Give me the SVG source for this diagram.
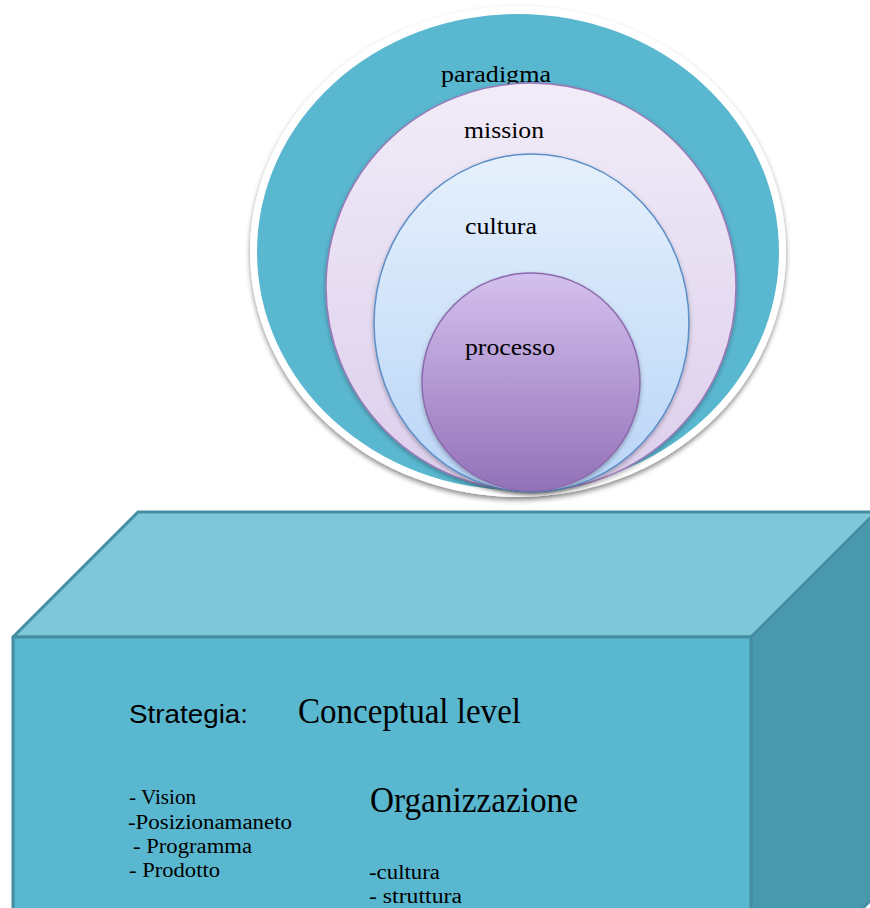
<svg xmlns="http://www.w3.org/2000/svg" width="870" height="908" viewBox="0 0 870 908">
  <defs>
    <linearGradient id="gMission" x1="0" y1="0" x2="0" y2="1">
      <stop offset="0" stop-color="#F1ECF8"/>
      <stop offset="1" stop-color="#DCCEEC"/>
    </linearGradient>
    <linearGradient id="gCultura" x1="0" y1="0" x2="0" y2="1">
      <stop offset="0" stop-color="#E6F0FC"/>
      <stop offset="1" stop-color="#B9D5F7"/>
    </linearGradient>
    <linearGradient id="gProcesso" x1="0" y1="0" x2="0" y2="1">
      <stop offset="0" stop-color="#D4C0EE"/>
      <stop offset="1" stop-color="#9371B8"/>
    </linearGradient>
    <filter id="shadowOuter" x="-10%" y="-10%" width="120%" height="125%">
      <feDropShadow dx="0" dy="3" stdDeviation="2.5" flood-color="#000" flood-opacity="0.45"/>
    </filter>
    <filter id="shadowInner" x="-10%" y="-10%" width="120%" height="125%">
      <feDropShadow dx="0" dy="2" stdDeviation="2" flood-color="#000" flood-opacity="0.3"/>
    </filter>
  </defs>
  <style>
    .lbl { font-family: "Liberation Serif", "DejaVu Serif", serif; font-size: 24px; fill: #000; }
    .big { font-family: "Liberation Serif", "DejaVu Serif", serif; font-size: 35px; fill: #000; }
    .item { font-family: "Liberation Serif", "DejaVu Serif", serif; font-size: 20px; fill: #000; }
    .head { font-family: "Liberation Sans", "DejaVu Sans", sans-serif; font-size: 26px; fill: #000; }
    .edge { stroke: #458EA1; stroke-width: 3; stroke-linejoin: round; }
  </style>

  <!-- nested rings -->
  <g id="paradigma">
    <ellipse cx="518" cy="251.5" rx="268" ry="245.5" fill="#FFFFFF" filter="url(#shadowOuter)"/>
    <ellipse cx="518" cy="252" rx="261" ry="238" fill="#59B7CF"/>
    <text class="lbl" x="441" y="82" textLength="110" lengthAdjust="spacingAndGlyphs">paradigma</text>
  </g>
  <g id="mission">
    <ellipse cx="531" cy="287" rx="205" ry="204" fill="url(#gMission)" stroke="#9A78B8" stroke-width="1.5" filter="url(#shadowInner)"/>
    <text class="lbl" x="464" y="138" textLength="80" lengthAdjust="spacingAndGlyphs">mission</text>
  </g>
  <g id="cultura">
    <ellipse cx="531.5" cy="323" rx="157.5" ry="169" fill="url(#gCultura)" stroke="#5B8EC8" stroke-width="1.5" filter="url(#shadowInner)"/>
    <text class="lbl" x="465" y="234" textLength="72" lengthAdjust="spacingAndGlyphs">cultura</text>
  </g>
  <g id="processo">
    <ellipse cx="531" cy="382" rx="109" ry="109" fill="url(#gProcesso)" stroke="#8C6AAE" stroke-width="1.5" filter="url(#shadowInner)"/>
    <text class="lbl" x="465" y="355" textLength="90" lengthAdjust="spacingAndGlyphs">processo</text>
  </g>

  <!-- block -->
  <g id="block">
    <polygon points="751,637 876,512 876,895 751,1020" fill="#4999AE" class="edge"/>
    <polygon points="13,637 138,512 876,512 751,637" fill="#7FC6D8" class="edge"/>
    <rect x="13" y="637" width="738" height="300" fill="#59B7CF" class="edge"/>

    <text class="head" x="129" y="723" textLength="119" lengthAdjust="spacingAndGlyphs">Strategia:</text>
    <text class="big" x="298" y="723" textLength="223" lengthAdjust="spacingAndGlyphs">Conceptual level</text>

    <text class="item" x="129" y="804" textLength="67" lengthAdjust="spacingAndGlyphs">- Vision</text>
    <text class="item" x="128" y="829" textLength="164" lengthAdjust="spacingAndGlyphs">-Posizionamaneto</text>
    <text class="item" x="133" y="853" textLength="119" lengthAdjust="spacingAndGlyphs">- Programma</text>
    <text class="item" x="129" y="877" textLength="91" lengthAdjust="spacingAndGlyphs">- Prodotto</text>

    <text class="big" x="370" y="812" textLength="208" lengthAdjust="spacingAndGlyphs">Organizzazione</text>
    <text class="item" x="369" y="879" textLength="71" lengthAdjust="spacingAndGlyphs">-cultura</text>
    <text class="item" x="369" y="903" textLength="93" lengthAdjust="spacingAndGlyphs">- struttura</text>
  </g>

  <g id="connectors"/>
</svg>
